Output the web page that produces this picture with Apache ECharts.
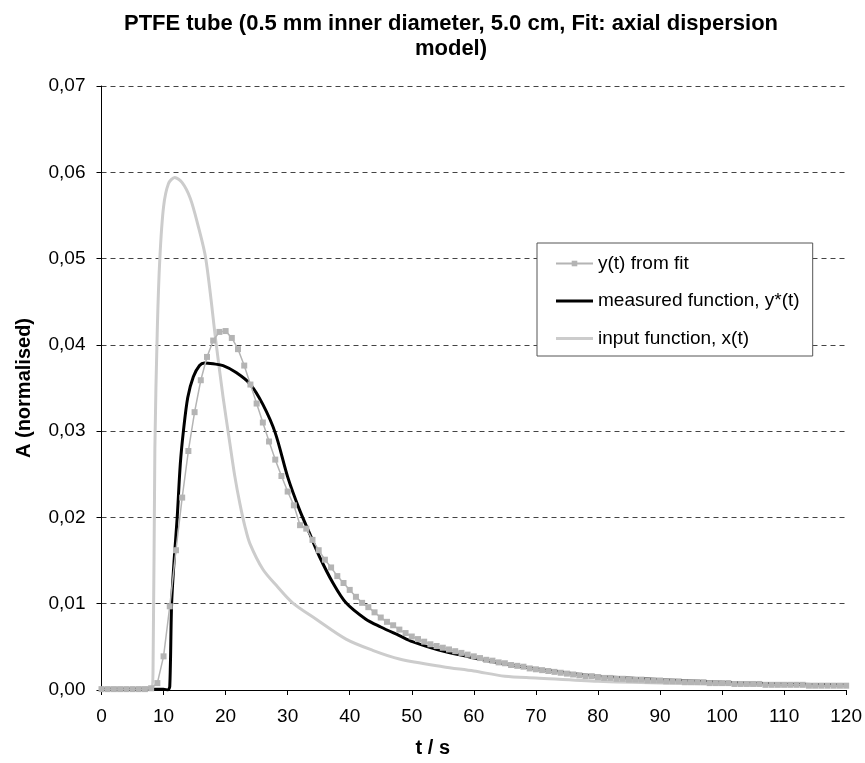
<!DOCTYPE html>
<html>
<head>
<meta charset="utf-8">
<script src="https://cdn.jsdelivr.net/npm/echarts@6/dist/echarts.min.js"></script>
<style>html,body{margin:0;padding:0;background:#fff}#c{width:865px;height:763px}</style>
</head>
<body>
<div id="c"></div>
<script>
var titleText = 'PTFE tube (0.5 mm inner diameter, 5.0 cm, Fit: axial dispersion\nmodel)';
var xName = 't / s';
var yName = 'A (normalised)';
var seriesNames = ['y(t) from fit', 'measured function, y*(t)', 'input function, x(t)'];

// fit: one value per second, t = 0 ... 120
var fitValues = [
  0.0001,0.0001,0.0001,0.0001,0.0001,0.0001,0.0001,0.0001,0.0002,0.0008,
  0.0039,0.0097,0.0162,0.0223,0.0277,0.0322,0.0359,0.0386,0.0405,0.0415,
  0.0416,0.0408,0.0395,0.0376,0.0354,0.0332,0.0310,0.0288,0.0267,0.0248,
  0.0230,0.0214,0.0191,0.0187,0.0174,0.0162,0.0151,0.0142,0.0132,0.0124,
  0.0116,0.0108,0.0101,0.0096,0.0090,0.0084,0.0079,0.0075,0.0070,0.0066,
  0.0062,0.0059,0.0056,0.0053,0.0051,0.0049,0.0047,0.0045,0.0043,0.0041,
  0.0039,0.0037,0.0035,0.0034,0.0032,0.0031,0.0029,0.0028,0.0027,0.0025,
  0.0024,0.0023,0.0022,0.0021,0.0020,0.0019,0.0018,0.0017,0.0016,0.0016,
  0.0015,0.0014,0.0014,0.0013,0.0013,0.0012,0.0012,0.0012,0.0011,0.0011,
  0.0011,0.0010,0.0010,0.0010,0.0009,0.0009,0.0009,0.0009,0.0008,0.0008,
  0.0008,0.0008,0.0007,0.0007,0.0007,0.0007,0.0007,0.0006,0.0006,0.0006,
  0.0006,0.0006,0.0006,0.0006,0.0005,0.0005,0.0005,0.0005,0.0005,0.0005,
  0.0005
];

var measuredT = [0,5,10,10.7,11.0,11.3,11.7,12.2,12.7,13.2,13.9,14.8,15.8,16.6,18,19.6,21.7,23.9,26,28,30,31.9,33.5,35.1,37.3,39.4,42.6,45,48,50.1,55,60.9,66,71.6,80,90,100,110,120];
var measuredV = [0.0001,0.0001,0.0001,0.0000,0.0004,0.010,0.015,0.020,0.0262,0.030,0.0339,0.0363,0.0376,0.0379,0.0378,0.0376,0.0368,0.0355,0.0331,0.0298,0.0247,0.0209,0.0182,0.0155,0.0124,0.0101,0.0082,0.0073,0.0063,0.0056,0.0045,0.0036,0.0029,0.0023,0.0016,0.0012,0.0009,0.0007,0.0006];

var inputT = [0,8,8.3,8.6,9.0,9.4,10,10.8,11.8,13,14.3,15.5,16.8,18.5,19.6,20.6,21.5,22.3,23.1,23.9,26,28.2,30.8,34.6,39.4,43.7,48,55,60,65,70,80,90,100,110,120];
var inputV = [0.0002,0.0003,0.002,0.028,0.042,0.050,0.056,0.0587,0.0594,0.0588,0.057,0.054,0.050,0.040,0.0339,0.029,0.0247,0.0216,0.019,0.017,0.014,0.0121,0.0101,0.0082,0.0059,0.0046,0.0036,0.0027,0.0022,0.0016,0.0014,0.0010,0.0008,0.0007,0.0006,0.0005];

function pairs(ts, vs){ return ts.map(function(t,i){ return [t, vs[i]]; }); }
var fitData = fitValues.map(function(v,i){ return [i, v]; });

var font = '"Liberation Sans", Arial, sans-serif';
var lineIcon = 'path://M0,0 L37,0 L37,3 L0,3 Z';
var chart = echarts.init(document.getElementById('c'), null, {renderer:'canvas'});
chart.setOption({
  animation: false,
  backgroundColor: '#fff',
  title: {
    text: titleText,
    left: 446, top: 6, textAlign: 'center',
    textStyle: {fontFamily: font, fontSize: 22, fontWeight: 'bold', color: '#000', lineHeight: 25}
  },
  grid: {left: 101.5, right: 17, top: 86, bottom: 68, containLabel: false},
  legend: {
    orient: 'vertical', left: 537, top: 243,
    padding: [11, 13, 8, 18], itemGap: 18.5,
    itemWidth: 37, itemHeight: 7,
    backgroundColor: '#fff', borderColor: '#555', borderWidth: 1,
    textStyle: {fontFamily: font, fontSize: 19, color: '#000', lineHeight: 19},
    data: [
      {name: seriesNames[0]},
      {name: seriesNames[1], icon: lineIcon},
      {name: seriesNames[2], icon: lineIcon}
    ]
  },
  xAxis: {
    type: 'value', min: 0, max: 120, interval: 10,
    name: xName, nameLocation: 'middle', nameGap: 48,
    nameTextStyle: {fontFamily: font, fontSize: 20, fontWeight: 'bold', color: '#000', padding: [0, 82, 0, 0]},
    axisLine: {lineStyle: {color: '#000', width: 1}},
    axisTick: {show: true, inside: false, length: 5, lineStyle: {color: '#000'}},
    axisLabel: {fontFamily: font, fontSize: 19, color: '#000', margin: 17},
    splitLine: {show: false}
  },
  yAxis: {
    type: 'value', min: 0, max: 0.07, interval: 0.01,
    name: yName, nameLocation: 'middle', nameGap: 67, nameRotate: 90,
    nameTextStyle: {fontFamily: font, fontSize: 20, fontWeight: 'bold', color: '#000'},
    axisLine: {show: true, lineStyle: {color: '#000', width: 1}},
    axisTick: {show: true, inside: false, length: 5, lineStyle: {color: '#000'}},
    axisLabel: {fontFamily: font, fontSize: 19, color: '#000', margin: 16,
      formatter: function(v){ return v.toFixed(2).replace('.', ','); }},
    splitLine: {show: true, lineStyle: {color: '#444', width: 1, type: [5, 4]}}
  },
  series: [
    {
      name: seriesNames[0], type: 'line', data: fitData, z: 4,
      symbol: 'rect', symbolSize: 6, showSymbol: true,
      itemStyle: {color: '#b4b4b4'},
      lineStyle: {color: '#b4b4b4', width: 1.5}
    },
    {
      name: seriesNames[1], type: 'line', data: pairs(measuredT, measuredV), z: 3,
      symbol: 'none', smooth: 0.3,
      itemStyle: {color: '#000'},
      lineStyle: {color: '#000', width: 3}
    },
    {
      name: seriesNames[2], type: 'line', data: pairs(inputT, inputV), z: 2,
      symbol: 'none', smooth: 0.3,
      itemStyle: {color: '#cccccc'},
      lineStyle: {color: '#cccccc', width: 3}
    }
  ]
});
</script>
</body>
</html>
